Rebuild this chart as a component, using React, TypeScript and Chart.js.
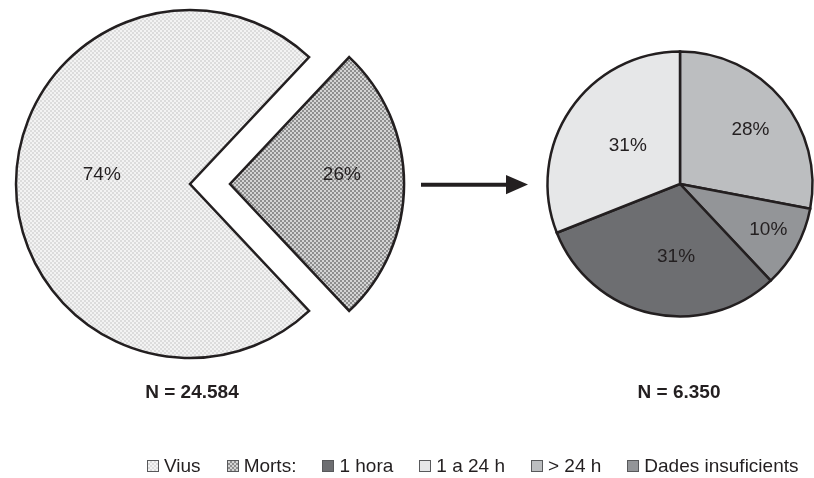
import React, { useEffect, useRef } from 'react';
import { Chart, registerables } from 'chart.js';
Chart.register(...registerables);

// ---- data ----
const leftLabels = ['Morts', 'Vius'];
const leftValues = [26, 74];
const rightLabels = ['> 24 h', 'Dades insuficients', '1 hora', '1 a 24 h'];
const rightValues = [28, 10, 31, 31];
const leftNText = 'N = 24.584';
const rightNText = 'N = 6.350';
const legendLabels = ['Vius', 'Morts:', '1 hora', '1 a 24 h', '> 24 h', 'Dades insuficients'];

const FONT = '"Liberation Sans", Arial, Helvetica, sans-serif';
const INK = '#231f20';
const rightColors = ['#bcbec0', '#939598', '#6d6e71', '#e6e7e8'];

function makeChecker(ctx: CanvasRenderingContext2D, a: string, b: string, cell: number) {
  const c = document.createElement('canvas');
  c.width = cell * 2;
  c.height = cell * 2;
  const g = c.getContext('2d')!;
  g.fillStyle = a;
  g.fillRect(0, 0, cell * 2, cell * 2);
  g.fillStyle = b;
  g.fillRect(0, 0, cell, cell);
  g.fillRect(cell, cell, cell, cell);
  return ctx.createPattern(c, 'repeat')!;
}

const pctLabels = {
  id: 'pctLabels',
  afterDatasetsDraw(chart: any, _args: any, opts: any) {
    const ctx = chart.ctx;
    const meta = chart.getDatasetMeta(0);
    const data = chart.data.datasets[0].data;
    ctx.save();
    ctx.font = `19px ${FONT}`;
    ctx.fillStyle = INK;
    ctx.textAlign = 'center';
    ctx.textBaseline = 'middle';
    meta.data.forEach((arc: any, i: number) => {
      const p = arc.getProps(['x', 'y', 'startAngle', 'endAngle', 'outerRadius'], true);
      const mid = (p.startAngle + p.endAngle) / 2;
      const off = (arc.options.offset || 0) / 4;
      const a = mid + ((opts.shift && opts.shift[i]) || 0) * Math.PI / 180;
      const r = p.outerRadius * ((opts.radius && opts.radius[i]) || 0.6);
      const x = p.x + Math.cos(mid) * off + Math.cos(a) * r;
      const y = p.y + Math.sin(mid) * off + Math.sin(a) * r;
      ctx.fillText(data[i] + '%', x, y);
    });
    ctx.restore();
  },
};

function LeftPie() {
  const ref = useRef<HTMLCanvasElement>(null);
  useEffect(() => {
    const cv = ref.current!;
    const ctx = cv.getContext('2d')!;
    const morts = makeChecker(ctx, '#d4d4d4', '#8e8e8e', 2);
    const vius = makeChecker(ctx, '#f3f3f3', '#dcdcdc', 2);
    const mortsSpan = (leftValues[0] / (leftValues[0] + leftValues[1])) * 360;
    const chart = new Chart(cv, {
      type: 'pie',
      data: {
        labels: leftLabels,
        datasets: [
          {
            data: leftValues,
            backgroundColor: [morts, vius],
            borderColor: INK,
            borderWidth: 2.5,
            borderJoinStyle: 'miter',
            offset: [160, 0],
            radius: 174,
          } as any,
        ],
      },
      options: {
        animation: false,
        responsive: false,
        devicePixelRatio: 1,
        rotation: 90 - mortsSpan / 2,
        radius: 174,
        layout: { padding: { left: 0, right: 40, top: 0, bottom: 0 } },
        plugins: {
          legend: { display: false },
          tooltip: { enabled: false },
          pctLabels: { shift: [-4.6, 6.2], radius: [0.645, 0.51] },
        } as any,
      } as any,
      plugins: [pctLabels],
    });
    return () => chart.destroy();
  }, []);
  return (
    <canvas
      ref={ref}
      width={420}
      height={368}
      style={{ position: 'absolute', left: 0, top: 0, width: 420, height: 368 }}
    />
  );
}

function RightPie() {
  const ref = useRef<HTMLCanvasElement>(null);
  useEffect(() => {
    const chart = new Chart(ref.current!, {
      type: 'pie',
      data: {
        labels: rightLabels,
        datasets: [
          {
            data: rightValues,
            backgroundColor: rightColors,
            borderColor: INK,
            borderWidth: 2.5,
            borderJoinStyle: 'miter',
            radius: 132.5,
          } as any,
        ],
      },
      options: {
        animation: false,
        responsive: false,
        devicePixelRatio: 1,
        rotation: 0,
        radius: 132.5,
        plugins: {
          legend: { display: false },
          tooltip: { enabled: false },
          pctLabels: { shift: [2.1, -1.5, -9.5, 2.3], radius: [0.67, 0.75, 0.55, 0.49] },
        } as any,
      } as any,
      plugins: [pctLabels],
    });
    return () => chart.destroy();
  }, []);
  return (
    <canvas
      ref={ref}
      width={280}
      height={280}
      style={{ position: 'absolute', left: 540, top: 44, width: 280, height: 280 }}
    />
  );
}

const checkerCss = (a: string, b: string, s: number) =>
  `repeating-conic-gradient(${a} 0% 25%, ${b} 0% 50%) 0 0 / ${s}px ${s}px`;

const legendSwatches = [
  checkerCss('#dcdcdc', '#f3f3f3', 4),
  checkerCss('#8e8e8e', '#d4d4d4', 4),
  '#6d6e71',
  '#e6e7e8',
  '#bcbec0',
  '#939598',
];

export default function App() {
  return (
    <div
      style={{
        position: 'fixed',
        left: 0,
        top: 0,
        width: 814,
        height: 478,
        background: '#fff',
        overflow: 'hidden',
        fontFamily: FONT,
        color: INK,
      }}
    >
      <LeftPie />
      <RightPie />
      <svg
        width={814}
        height={478}
        style={{ position: 'absolute', left: 0, top: 0, pointerEvents: 'none' }}
      >
        <line x1={421} y1={184.7} x2={508} y2={184.7} stroke={INK} strokeWidth={4} />
        <polygon points="506,175 528,184.6 506,194.2" fill={INK} />
      </svg>
      <div
        style={{
          position: 'absolute',
          left: 92,
          width: 200,
          top: 382,
          textAlign: 'center',
          fontWeight: 'bold',
          fontSize: 19,
          lineHeight: '19px',
        }}
      >
        {leftNText}
      </div>
      <div
        style={{
          position: 'absolute',
          left: 579,
          width: 200,
          top: 382,
          textAlign: 'center',
          fontWeight: 'bold',
          fontSize: 19,
          lineHeight: '19px',
        }}
      >
        {rightNText}
      </div>
      <div
        style={{
          position: 'absolute',
          left: 147,
          top: 456,
          display: 'flex',
          alignItems: 'center',
          fontSize: 19,
          lineHeight: '20px',
          whiteSpace: 'nowrap',
        }}
      >
        {legendLabels.map((l, i) => (
          <div
            key={l}
            style={{ display: 'flex', alignItems: 'center', marginLeft: i === 0 ? 0 : 26 }}
          >
            <span
              style={{
                display: 'inline-block',
                width: 12,
                height: 12,
                boxSizing: 'border-box',
                border: '1px solid #58595b',
                background: legendSwatches[i],
                marginRight: 5,
              }}
            />
            <span>{l}</span>
          </div>
        ))}
      </div>
    </div>
  );
}
